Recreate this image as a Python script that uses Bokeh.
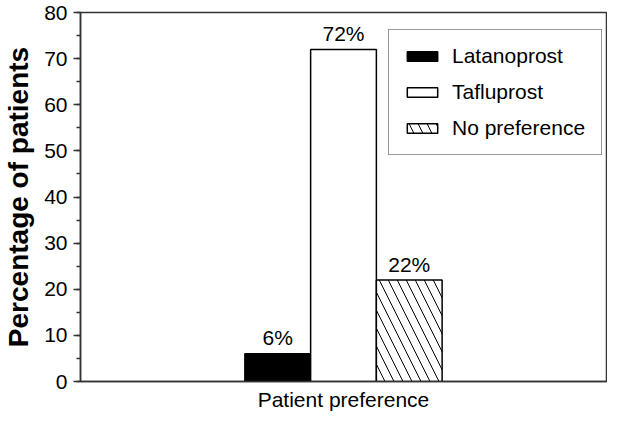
from bokeh.plotting import figure
from bokeh.models import Range1d, FactorRange, SingleIntervalTicker, Legend, LegendItem, ColumnDataSource
from bokeh.transform import dodge
from bokeh.embed import file_html
from bokeh.resources import INLINE
from bokeh.core.properties import value

category = ["Patient preference"]
series = ["Latanoprost", "Tafluprost", "No preference"]
percentages = [6, 72, 22]
value_labels = ["6%", "72%", "22%"]
y_ticks_interval = 10

FONT = "Liberation Sans"
DARK = "#333333"
BAR_W = 0.125

p = figure(
    width=607, height=413,
    x_range=FactorRange(*category, range_padding=0),
    y_range=Range1d(0, 80),
    output_backend="svg", toolbar_location=None,
    min_border_left=76, min_border_right=1, min_border_top=12, min_border_bottom=0,
)

fills = ["black", "white", "white"]
hatches = [None, None, "\\"]
items = []
for i, (name, v, lab) in enumerate(zip(series, percentages, value_labels)):
    off = (i - 1) * BAR_W
    src = ColumnDataSource(dict(cat=category, val=[v], lab=[lab]))
    kw = dict(x=dodge("cat", off, range=p.x_range), top="val", width=BAR_W, source=src,
              fill_color=fills[i], line_color="black", line_width=1.5)
    if hatches[i]:
        kw.update(hatch_pattern=hatches[i], hatch_color="black", hatch_scale=18, hatch_weight=1)
    r = p.vbar(**kw)
    items.append(LegendItem(label=name, renderers=[r]))
    p.text(x=dodge("cat", off, range=p.x_range), y="val", text="lab", source=src,
           text_align="center", text_baseline="alphabetic", y_offset=-16,
           text_font=value(FONT), text_font_size="21px", text_color="black")

legend = Legend(items=items, location=(308, 226),
                glyph_width=38, glyph_height=12, label_height=24, spacing=12,
                padding=14, label_standoff=11, margin=0, label_width=135,
                label_text_font=FONT, label_text_font_size="21px", label_text_color="black",
                border_line_color=DARK, border_line_width=1.5, background_fill_alpha=1)
p.add_layout(legend, "center")

p.xgrid.visible = False
p.ygrid.visible = False
p.outline_line_color = DARK
p.outline_line_width = 1.5
p.background_fill_color = "white"
p.border_fill_color = "white"

ya = p.yaxis[0]
ya.ticker = SingleIntervalTicker(interval=y_ticks_interval, num_minor_ticks=2)
ya.axis_label = "Percentage of patients"
ya.axis_label_text_font = FONT
ya.axis_label_text_font_style = "bold"
ya.axis_label_text_font_size = "28px"
ya.axis_label_text_color = "black"
ya.axis_label_standoff = 7
ya.major_label_text_font = FONT
ya.major_label_text_font_size = "21px"
ya.major_label_text_color = "black"
ya.major_label_standoff = 6
ya.major_tick_out = 7
ya.major_tick_in = 0
ya.minor_tick_out = 4
ya.minor_tick_in = 0
ya.axis_line_color = DARK
ya.axis_line_width = 1.5
ya.major_tick_line_color = DARK
ya.major_tick_line_width = 1.5
ya.minor_tick_line_color = DARK
ya.minor_tick_line_width = 1.5

xa = p.xaxis[0]
xa.major_tick_line_color = None
xa.minor_tick_line_color = None
xa.major_label_text_font = FONT
xa.major_label_text_font_size = "21px"
xa.major_label_text_color = "black"
xa.major_label_standoff = 0
xa.axis_line_color = DARK
xa.axis_line_width = 1.5

open("out.html", "w").write(file_html(p, INLINE))
